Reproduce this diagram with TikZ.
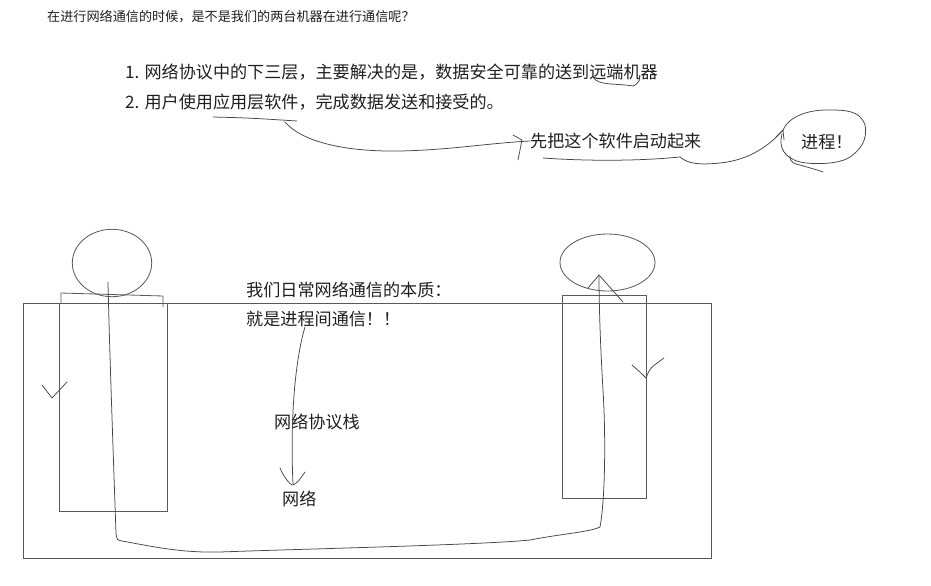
\documentclass[tikz,border=0pt]{standalone}
\usepackage{fontspec}
\setmainfont{Noto Sans CJK SC}
\usetikzlibrary{positioning}
\newcommand{\fsz}[1]{\fontsize{#1}{#1}\selectfont}
\tikzset{
  pen/.style={draw=black!72, line width=0.65pt, line cap=round, line join=round},
  box/.style={draw=black!65, line width=0.7pt},
  txt/.style={anchor=west, inner sep=0pt, text=black!88, font=\fsz{14.6}},
}
\begin{document}
\begin{tikzpicture}[x=0.03cm, y=-0.03cm]
\useasboundingbox (0,0) rectangle (931,585);
% Testi in alto
\node[txt, font=\fsz{11.2}] (q) at (47,17) {在进行网络通信的时候，是不是我们的两台机器在进行通信呢？};
\node[txt] (pa) at (125,72) {1. 网络协议中的下三层，主要解决的是，数据安全可靠的送到远端机器};
\node[txt] (pb) at (125,102) {2. 用户使用应用层软件，完成数据发送和接受的。};
\node[txt] (start) at (530,141) {先把这个软件启动起来};
\node[txt] (proc) at (801,142) {进程！};
% sottolineature e frecce a mano
\draw[pen] (213,117) .. controls (250,118) .. (297,121);
\draw[pen] (593,77) .. controls (598,86) and (615,83) .. (633,86) .. controls (637,84) .. (640,79);
\draw[pen] (285,122) .. controls (300,140) and (340,152) .. (400,151)
  .. controls (450,150) and (490,143) .. (start.west);
\draw[pen] (513,135) -- (522,140) -- (518,160);
\draw[pen] (543,158) .. controls (600,162) and (650,160) .. (680,157)
  .. controls (688,164) and (700,165) .. (720,163)
  .. controls (750,160) and (770,145) .. (783,130);
\draw[pen] (776,137) -- (783,130) -- (784,140);
\draw[pen] (783,130) .. controls (788,118) and (805,110) .. (827,110)
  .. controls (845,110) and (860,110) .. (865,125)
  .. controls (868,140) and (860,150) .. (850,157)
  .. controls (840,164) and (815,165) .. (800,162)
  .. controls (785,158) and (778,148) .. (782,134);
\draw[pen] (790,156) .. controls (790,163) and (795,164) .. (800,165)
  .. controls (810,168) and (818,170) .. (823,172);
% corpo: due macchine
\draw[box] (23,303) rectangle (711,558);
\draw[box] (59,303) rectangle (167,511);
\draw[box] (61,303) -- (61,293) -- (163,296) -- (163,307);
\draw[box] (112,263) ellipse (39.7 and 33.7);
\draw[box] (562,295) rectangle (646,498);
\draw[box] (607.5,262.5) ellipse (47.5 and 28.5);
\node[txt] (ess) at (246,290) {我们日常网络通信的本质：};
\node[txt] (ipc) at (246,319) {就是进程间通信！！};
\node[txt] (stack) at (274,422) {网络协议栈};
\node[txt] (net) at (282,499) {网络};
% percorso dei dati
\draw[pen] (108,282) .. controls (109,330) and (112,420) .. (116,533)
  .. controls (117,540) .. (122,541) .. controls (150,546) and (180,553) .. (220,552)
  .. controls (300,549) and (480,545) .. (530,540)
  .. controls (560,534) and (590,532) .. (600,527)
  .. controls (605,500) and (606,440) .. (603,390)
  .. controls (600,340) and (599,300) .. (599,275);
\draw[pen] (588,288) -- (599,275) -- (623,302);
\draw[pen] (305,327) .. controls (295,360) and (290,420) .. (293,484);
\draw[pen] (280,468) .. controls (285,480) and (292,486) .. (293,485) .. controls (298,482) .. (305,472);
\draw[pen] (42,385) -- (52,398) -- (67,382);
\draw[pen] (632,365) .. controls (640,372) .. (646,378) .. controls (650,368) .. (664,358);
\end{tikzpicture}
\end{document}
